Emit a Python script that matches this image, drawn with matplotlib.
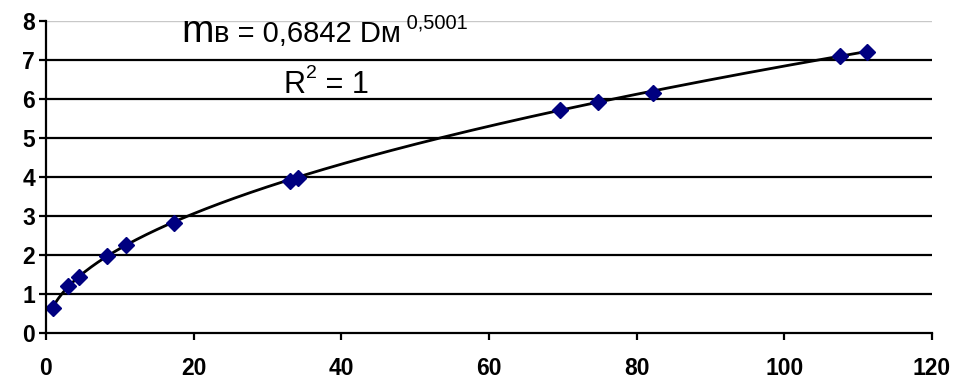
import numpy as np
import matplotlib
matplotlib.use("Agg")
import matplotlib.pyplot as plt

# data
d_m = [0.9, 3.0, 4.5, 8.3, 10.8, 17.3, 33.0, 34.1, 69.6, 74.8, 82.2, 107.5, 111.2]
m_b = [0.64, 1.21, 1.44, 1.97, 2.25, 2.83, 3.91, 3.97, 5.72, 5.92, 6.16, 7.10, 7.21]
coef_a = 0.6842
coef_b = 0.5001
x_ticks = [0, 20, 40, 60, 80, 100, 120]
y_ticks = [0, 1, 2, 3, 4, 5, 6, 7, 8]

plt.rcParams['font.family'] = ['Liberation Sans', 'DejaVu Sans']

W, H = 955, 385
fig = plt.figure(figsize=(W / 100, H / 100), dpi=100)
ax = fig.add_axes([46 / W, (H - 333) / H, (932 - 46) / W, (333 - 21) / H])

ax.set_xlim(0, 120)
ax.set_ylim(0, 8)
ax.set_xticks(x_ticks)
ax.set_yticks(y_ticks)

for v in y_ticks[1:-1]:
    ax.axhline(v, color='black', lw=1.6, zorder=1)
ax.axhline(y_ticks[-1], color='#c8c8c8', lw=1.0, zorder=1)

xs = np.linspace(min(d_m), max(d_m), 400)
ax.plot(xs, coef_a * xs ** coef_b, color='black', lw=2.0, zorder=2)
ax.plot(d_m, m_b, linestyle='none', marker='D', markersize=8.5,
        color='#000080', markeredgecolor='#000080', zorder=3)

for s in ['top', 'right']:
    ax.spines[s].set_visible(False)
for s in ['left', 'bottom']:
    ax.spines[s].set_linewidth(1.6)
    ax.spines[s].set_color('black')
    ax.spines[s].set_zorder(4)

ax.tick_params(axis='both', direction='out', length=5, width=1.6, colors='black')
ax.tick_params(axis='x', pad=12)
ax.tick_params(axis='y', pad=3)
for lab in ax.get_xticklabels() + ax.get_yticklabels():
    lab.set_fontsize(16.5)
    lab.set_fontweight('bold')

# equation label
y0 = 7.46
t1 = ax.text(18.4, y0, 'm', fontsize=28, va='baseline', ha='left', zorder=5)
t2 = ax.annotate('в = 0,6842 Dм', xy=(1, y0), xycoords=(t1, 'data'),
                 fontsize=21, va='baseline', ha='left', zorder=5)
t3 = ax.annotate(' 0,5001', xy=(1, 7.80), xycoords=(t2, 'data'),
                 fontsize=14.5, va='baseline', ha='left', zorder=5)

y1 = 6.15
r1 = ax.text(32.2, y1, 'R', fontsize=22, va='baseline', ha='left', zorder=5)
r2 = ax.annotate('2', xy=(1, 6.55), xycoords=(r1, 'data'),
                 fontsize=14, va='baseline', ha='left', zorder=5)
r3 = ax.annotate(' = 1', xy=(1, y1), xycoords=(r2, 'data'),
                 fontsize=22, va='baseline', ha='left', zorder=5)

fig.savefig('out.png', dpi=100)
